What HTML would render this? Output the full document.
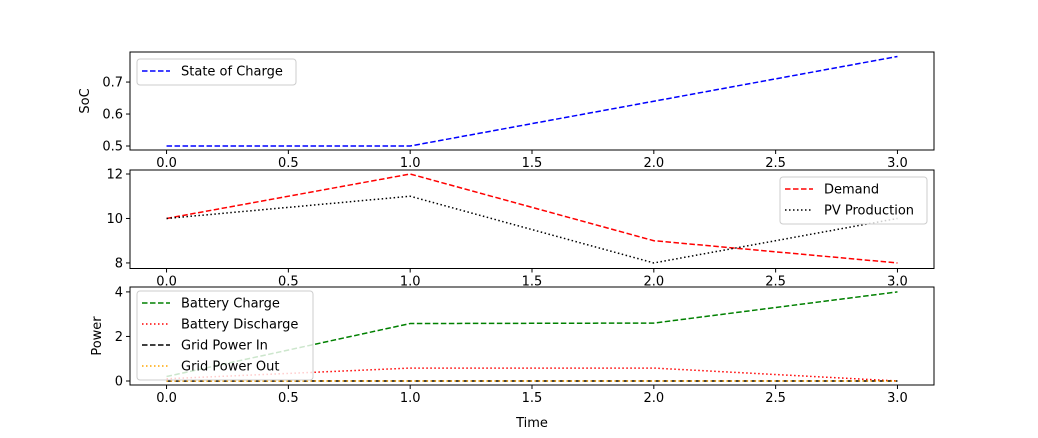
<!DOCTYPE html>
<html><head><meta charset="utf-8"><style>
body{margin:0;background:#fff}
svg{font-family:"DejaVu Sans","Liberation Sans",sans-serif;font-size:13px}
</style></head><body>
<svg id="c" width="1038" height="433" xmlns="http://www.w3.org/2000/svg"></svg>
<script>
const times=[0,1,2,3];
const soc=[0.5,0.5,0.64,0.78];
const demand=[10,12,9,8];
const pv=[10,11,8,10];
const charge=[0.2,2.58,2.6,4];
const discharge=[0.1,0.58,0.58,0];
const gridIn=[0,0,0,0];
const gridOut=[0,0,0,0];
const xTicks=[0,0.5,1,1.5,2,2.5,3];
const socTicks=[0.5,0.6,0.7];
const dTicks=[8,10,12];
const pTicks=[0,2,4];
const NS="http://www.w3.org/2000/svg";
const svg=document.getElementById('c');
function el(t,a,p){const e=document.createElementNS(NS,t);for(const k in a)e.setAttribute(k,a[k]);(p||svg).appendChild(e);return e;}
const X0=130,X1=934,xmin=-0.15,xmax=3.15;
const sx=v=>X0+(v-xmin)/(xmax-xmin)*(X1-X0);
function axis(name,top,bot,ymin,ymax,yt,fmt,ylabel,xlabel,ylx){
  const g=el('g',{});
  
  
  const sy=v=>bot-(v-ymin)/(ymax-ymin)*(bot-top);
  xTicks.forEach(t=>{const x=sx(t);el('line',{x1:x,x2:x,y1:bot,y2:bot+4,stroke:'#000'},g);
    const tx=el('text',{x:x,y:bot+17,'text-anchor':'middle',fill:'#000'},g);tx.textContent=t.toFixed(1);
    });
  yt.forEach(t=>{const y=sy(t);el('line',{x1:X0-4,x2:X0,y1:y,y2:y,stroke:'#000'},g);
    const tx=el('text',{x:X0-7,y:y+4.5,'text-anchor':'end',fill:'#000'},g);tx.textContent=fmt(t);
    });
  if(ylabel){const yl=el('text',{x:0,y:0,transform:`translate(${ylx},${(top+bot)/2}) rotate(-90)`,'text-anchor':'middle'},g);yl.textContent=ylabel;
    }
  if(xlabel){const xl=el('text',{x:(X0+X1)/2,y:bot+42,'text-anchor':'middle'},g);xl.textContent=xlabel;
    }
  return {g,sy,top,bot};
}
function line(ax,vals,color,dash,name){
  const p=el('polyline',{points:times.map((t,i)=>sx(t)+','+ax.sy(vals[i])).join(' '),fill:'none',stroke:color,'stroke-width':1.5,'stroke-dasharray':dash},ax.g);
  
}
function frame(ax){el('rect',{x:X0,y:ax.top,width:X1-X0,height:ax.bot-ax.top,fill:'none',stroke:'#000','stroke-width':1},ax.g);}
function legend(ax,x,y,w,items,name){
  const g=el('g',{},ax.g);
  
  el('rect',{x:x,y:y,width:w,height:items.length*21+5,fill:'#fff','fill-opacity':0.8,stroke:'#ccc',rx:3},g);
  items.forEach((it,i)=>{const yy=y+12+i*21;
    el('line',{x1:x+5,x2:x+33,y1:yy,y2:yy,stroke:it[1],'stroke-width':1.5,'stroke-dasharray':it[2]},g);
    const t=el('text',{x:x+44,y:yy+4.5},g);t.textContent=it[0];
    });
}
const a1=axis('soc-axes',52,150,0.4875,0.794,socTicks,v=>v.toFixed(1),'SoC',null,89);
line(a1,soc,'#0000ff','5.5,2.5','soc-line');frame(a1);
legend(a1,137,59,159,[['State of Charge','#0000ff','5.5,2.5']],'soc-legend');
const a2=axis('demand-axes',170,268.5,7.75,12.18,dTicks,v=>String(v),null);
line(a2,demand,'#ff0000','5.5,2.5','demand-line');line(a2,pv,'#000','1.5,2.5','pv-line');frame(a2);
legend(a2,780,177,147,[['Demand','#ff0000','5.5,2.5'],['PV Production','#000','1.5,2.5']],'demand-legend');
const a3=axis('power-axes',287,385,-0.18,4.22,pTicks,v=>String(v),'Power','Time',101);
line(a3,charge,'#008000','5.5,2.5','battery-charge-line');line(a3,discharge,'#ff0000','1.5,2.5','battery-discharge-line');
line(a3,gridIn,'#000','5.5,2.5','grid-in-line');line(a3,gridOut,'#ffa500','1.5,2.5','grid-out-line');
legend(a3,137,291,176,[['Battery Charge','#008000','5.5,2.5'],['Battery Discharge','#ff0000','1.5,2.5'],['Grid Power In','#000','5.5,2.5'],['Grid Power Out','#ffa500','1.5,2.5']],'power-legend');
frame(a3);
</script>
</body></html>
